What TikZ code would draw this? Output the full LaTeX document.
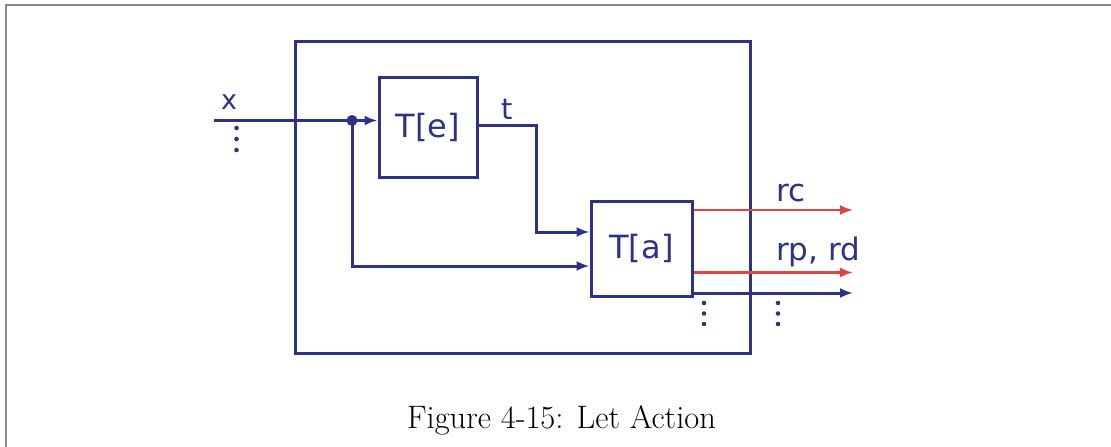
\documentclass[tikz,border=0pt]{standalone}
\usepackage{fontspec}
\newfontfamily\lblfont{DejaVu Sans}
\usetikzlibrary{arrows.meta}
\definecolor{navy}{HTML}{2E3188}
\definecolor{redl}{HTML}{E2453E}
\definecolor{framegray}{HTML}{8A8A8A}
\begin{document}
\begin{tikzpicture}[x=1pt,y=-1pt,
  blk/.style={draw=navy,line width=3pt,rectangle,inner sep=0pt,font=\lblfont\fontsize{32}{36}\selectfont,text=navy},
  wire/.style={draw=navy,line width=3pt},
  rwire/.style={draw=redl,line width=2pt},
  arr/.style={-{Latex[length=13pt,width=10pt]}},
  lbl/.style={font=\lblfont\fontsize{31}{36}\selectfont,text=navy,inner sep=0pt,anchor=base west}
]
\useasboundingbox (0,0) rectangle (1111,447);
\fill[white] (0,0) rectangle (1111,447);
% page frame
\draw[framegray,line width=2pt] (6,447) -- (6,5) -- (1111,5);
% outer box
\node[draw=navy,line width=3pt,rectangle,minimum width=455pt,minimum height=312pt,inner sep=0pt] (outer) at (522.5,197) {};
% blocks
\node[blk,minimum width=98pt,minimum height=100pt] (te) at (428,127) {T[e]};
\node[blk,minimum width=101pt,minimum height=95pt] (ta) at (641.5,248.5) {T[a]};
% input x
\coordinate (xin) at (214,120.5);
\coordinate (split) at (352,120.5);
\draw[wire,arr] (xin) -- (xin -| te.west);
\fill[navy] (split) circle (5.5pt);
\draw[wire,arr] (split) |- ([yshift=-17.5pt]ta.west);
\node[lbl,font=\lblfont\fontsize{27}{30}\selectfont] (xl) at (221,109.5) {x};
% t
\draw[wire,arr] ([yshift=2pt]te.east) -- ++(58,0) |- ([yshift=16.5pt]ta.west);
\node[lbl,font=\lblfont\fontsize{29}{34}\selectfont] (tl) at (501,119.5) {t};
% outputs
\coordinate (rcend) at (853,210);
\coordinate (rpend) at (853,272.5);
\coordinate (bend) at (853,293);
\draw[rwire,arr] (ta.east |- rcend) -- (rcend);
\draw[rwire,line width=2.4pt,arr] (ta.east |- rpend) -- (rpend);
\draw[wire,arr] (ta.east |- bend) -- (bend);
\node[lbl] (rcl) at (776,201.5) {rc};
\node[lbl] (rpl) at (776,260.5) {rp, rd};
% ellipsis dots
\foreach \yy in {128,139,150} \fill[navy] (236.5,\yy) circle (2.3pt);
\foreach \yy in {303,313.5,324} {\fill[navy] (704,\yy) circle (2.3pt); \fill[navy] (778,\yy) circle (2.3pt);}
% caption
\node[font=\fontsize{32.5}{38}\selectfont,inner sep=0pt,anchor=base] (cap) at (561.5,428) {Figure 4-15: Let Action};
\end{tikzpicture}
\end{document}
